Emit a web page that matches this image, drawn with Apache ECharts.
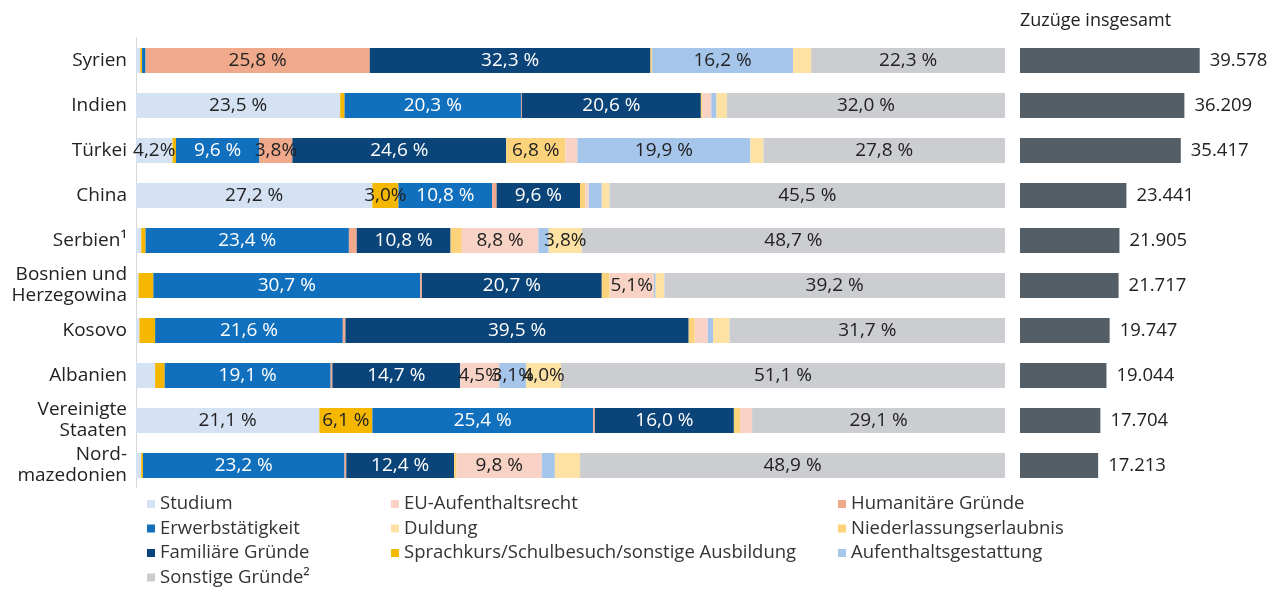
<!DOCTYPE html>
<html>
<head>
<meta charset="utf-8">
<title>Zuzüge nach Aufenthaltszweck</title>
<script src="https://cdn.jsdelivr.net/npm/echarts@6/dist/echarts.min.js"></script>
<style>
  html, body { margin: 0; padding: 0; background: #fff; }
  #chart { width: 1277px; height: 592px; }
</style>
</head>
<body>
<div id="chart"></div>
<script>
// Herkunftsländer
const countries = ['Syrien', 'Indien', 'Türkei', 'China', 'Serbien¹', 'Bosnien und\nHerzegowina', 'Kosovo', 'Albanien', 'Vereinigte\nStaaten', 'Nord-\nmazedonien']

// Anteile in % je Aufenthaltszweck (Reihenfolge wie die Länder)
const studium = [0.5, 23.5, 4.2, 27.2, 0.6, 0.3, 0.4, 2.2, 21.1, 0.6]
const sprachkurs = [0.2, 0.5, 0.4, 3.0, 0.5, 1.7, 1.8, 1.1, 6.1, 0.2]
const erwerb = [0.4, 20.3, 9.6, 10.8, 23.4, 30.7, 21.6, 19.1, 25.4, 23.2]
const humanitaer = [25.8, 0.1, 3.8, 0.5, 0.9, 0.2, 0.3, 0.2, 0.2, 0.2]
const familie = [32.3, 20.6, 24.6, 9.6, 10.8, 20.7, 39.5, 14.7, 16.0, 12.4]
const niederlassung = [0.2, 0.2, 6.8, 0.6, 1.3, 0.9, 0.7, 0, 0.7, 0.3]
const euRecht = [0, 1.0, 1.4, 0.4, 8.8, 5.1, 1.5, 4.5, 1.4, 9.8]
const gestattung = [16.2, 0.6, 19.9, 1.5, 1.2, 0.2, 0.6, 3.1, 0, 1.5]
const duldung = [2.1, 1.2, 1.5, 0.9, 3.8, 1.0, 1.9, 4.0, 0, 2.9]
const sonstige = [22.3, 32.0, 27.8, 45.5, 48.7, 39.2, 31.7, 51.1, 29.1, 48.9]

// Zuzüge insgesamt
const totals = [39578, 36209, 35417, 23441, 21905, 21717, 19747, 19044, 17704, 17213]

const font = 'Open Sans'
const chart = echarts.init(document.getElementById('chart'))

const fmtPct = v => {
  const s = v.toFixed(1).replace('.', ',')
  return v < 6 ? s + '%' : s + ' %'
}

// ein gestapelter Balken je Aufenthaltszweck
function part (name, data, color, labelColor) {
  return {
    name: name,
    type: 'bar',
    stack: 'anteil',
    xAxisIndex: 0,
    yAxisIndex: 0,
    barWidth: 25,
    data: data,
    itemStyle: { color: color },
    label: {
      show: true,
      position: 'inside',
      fontFamily: font,
      fontSize: 19,
      color: labelColor || '#222',
      formatter: p => (p.value >= 3 ? fmtPct(p.value) : '')
    }
  }
}

const legendText = { fontFamily: font, fontSize: 18.5, lineHeight: 20, color: '#333' }
function legendCol (left, names) {
  return {
    orient: 'vertical',
    left: left,
    top: 494,
    height: 120,
    padding: 0,
    itemWidth: 8,
    itemHeight: 8,
    itemGap: 4.5,
    icon: 'rect',
    textStyle: legendText,
    selectedMode: false,
    data: names
  }
}

const option = {
  animation: false,
  title: {
    text: 'Zuzüge insgesamt',
    left: 1015,
    top: 7,
    textStyle: { fontFamily: font, fontSize: 18, fontWeight: 'normal', color: '#222' }
  },
  legend: [
    legendCol(147, ['Studium', 'Erwerbstätigkeit', 'Familiäre Gründe', 'Sonstige Gründe²']),
    legendCol(391, ['EU-Aufenthaltsrecht', 'Duldung', 'Sprachkurs/Schulbesuch/sonstige Ausbildung']),
    legendCol(838, ['Humanitäre Gründe', 'Niederlassungserlaubnis', 'Aufenthaltsgestattung'])
  ],
  grid: [
    { left: 136, top: 38, width: 869, height: 450 },
    { left: 1020, top: 38, width: 227, height: 450 }
  ],
  xAxis: [
    { type: 'value', gridIndex: 0, min: 0, max: 100, show: false },
    { type: 'value', gridIndex: 1, min: 0, max: 50000, show: false }
  ],
  yAxis: [
    {
      type: 'category',
      gridIndex: 0,
      inverse: true,
      data: countries,
      axisTick: { show: false },
      axisLine: { show: true, lineStyle: { color: '#d8d8d8', width: 1 } },
      axisLabel: {
        margin: 9,
        fontFamily: font,
        fontSize: 19,
        lineHeight: 21,
        color: '#222',
        align: 'right'
      }
    },
    {
      type: 'category',
      gridIndex: 1,
      inverse: true,
      data: countries,
      show: false
    }
  ],
  series: [
    part('Studium', studium, '#d5e2f3'),
    part('Sprachkurs/Schulbesuch/sonstige Ausbildung', sprachkurs, '#f5b700'),
    part('Erwerbstätigkeit', erwerb, '#1170bd', '#fff'),
    part('Humanitäre Gründe', humanitaer, '#f0a98b'),
    part('Familiäre Gründe', familie, '#0b4479', '#fff'),
    part('Niederlassungserlaubnis', niederlassung, '#fcd27b'),
    part('EU-Aufenthaltsrecht', euRecht, '#f8d3c5'),
    part('Aufenthaltsgestattung', gestattung, '#a6c5ea'),
    part('Duldung', duldung, '#fde2a3'),
    part('Sonstige Gründe²', sonstige, '#cbcdd0'),
    {
      name: 'Zuzüge insgesamt',
      type: 'bar',
      xAxisIndex: 1,
      yAxisIndex: 1,
      barWidth: 25,
      data: totals,
      itemStyle: { color: '#535e66' },
      label: {
        show: true,
        position: 'right',
        distance: 10,
        fontFamily: font,
        fontSize: 18.5,
        color: '#222',
        formatter: p => String(p.value).replace(/\B(?=(\d{3})+(?!\d))/g, '.')
      }
    }
  ]
}

chart.setOption(option)
</script>
</body>
</html>
